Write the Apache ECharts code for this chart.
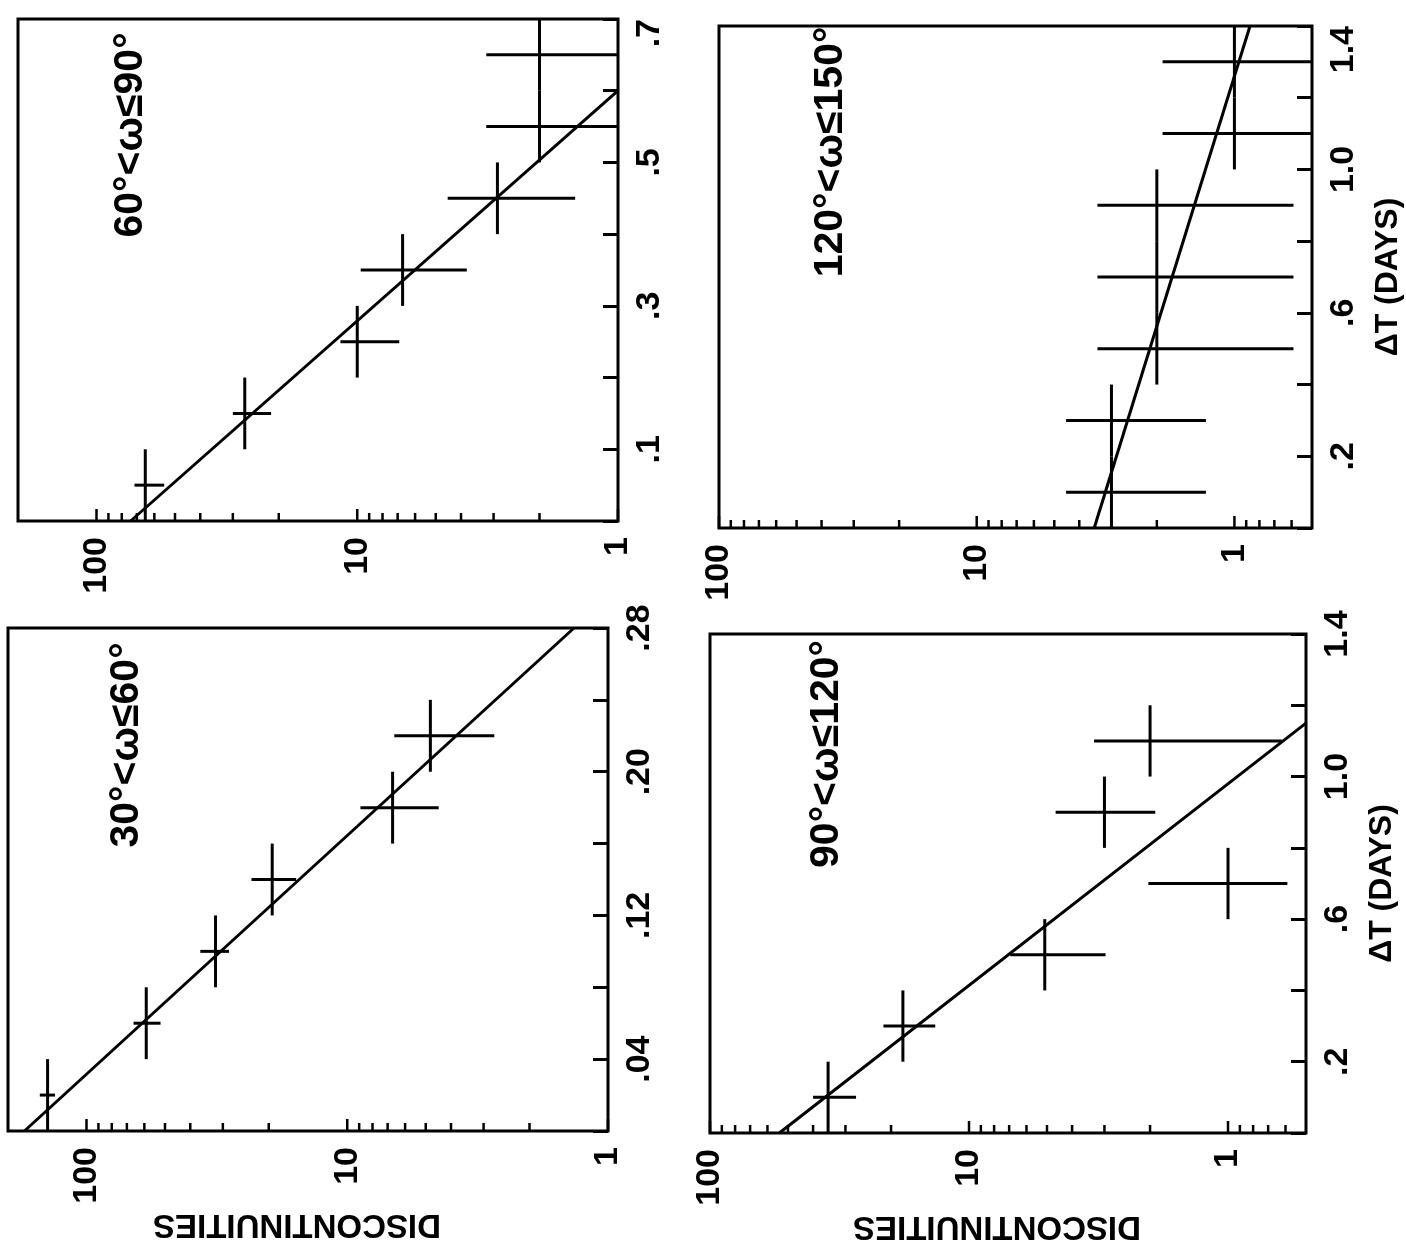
<!DOCTYPE html>
<html>
<head>
<meta charset="utf-8">
<title>Discontinuities vs ΔT</title>
<script src="https://cdn.jsdelivr.net/npm/echarts@6.0.0/dist/echarts.min.js"></script>
<style>
html,body{margin:0;padding:0;background:#fff;}
#chart{width:1406px;height:1251px;}
</style>
</head>
<body>
<div id="chart"></div>
<script>
// ---------------- data ----------------
// 60° < ω ≤ 90°
const dt6090    = [0.05, 0.15, 0.25, 0.35, 0.45, 0.55, 0.65];
const binLo6090 = [0.0, 0.1, 0.2, 0.3, 0.4, 0.5, 0.6];
const binHi6090 = [0.1, 0.2, 0.3, 0.4, 0.5, 0.6, 0.7];
const n6090     = [65, 27, 10, 6.7, 2.9, 2.0, 2.0];
const nLo6090   = [55, 21.4, 6.9, 3.8, 1.46, 1.0, 1.0];
const nHi6090   = [71.5, 30, 11.6, 9.7, 4.5, 3.2, 3.2];
const fit6090   = [[74, 0], [1.0, 0.6]];          // [discontinuities, ΔT]

// 120° < ω ≤ 150°
const dt120150    = [0.1, 0.3, 0.5, 0.7, 0.9, 1.1, 1.3];
const binLo120150 = [0.0, 0.2, 0.4, 0.6, 0.8, 1.0, 1.2];
const binHi120150 = [0.2, 0.4, 0.6, 0.8, 1.0, 1.2, 1.4];
const n120150     = [3, 3, 2, 2, 2, 1, 1];
const nLo120150   = [1.29, 1.29, 0.59, 0.59, 0.59, 0.48, 0.48];
const nHi120150   = [4.5, 4.5, 3.4, 3.4, 3.4, 1.9, 1.9];
const fit120150   = [[3.5, 0], [0.87, 1.4]];

// 30° < ω ≤ 60°
const dt3060    = [0.02, 0.06, 0.10, 0.14, 0.18, 0.22];
const binLo3060 = [0.0, 0.04, 0.08, 0.12, 0.16, 0.20];
const binHi3060 = [0.04, 0.08, 0.12, 0.16, 0.20, 0.24];
const n3060     = [141, 59, 32, 19.4, 6.7, 4.8];
const nLo3060   = [132, 52, 28.4, 15.7, 4.46, 2.73];
const nHi3060   = [151, 66, 36.6, 23.3, 8.9, 6.6];
const fit3060   = [[173, 0], [1.35, 0.28]];

// 90° < ω ≤ 120°
const dt90120    = [0.1, 0.3, 0.5, 0.7, 0.9, 1.1];
const binLo90120 = [0.0, 0.2, 0.4, 0.6, 0.8, 1.0];
const binHi90120 = [0.2, 0.4, 0.6, 0.8, 1.0, 1.2];
const n90120     = [35, 18, 5.1, 1.0, 3.0, 2.0];
const nLo90120   = [27.3, 13.5, 2.97, 0.59, 1.91, 0.62];
const nHi90120   = [40, 21.4, 6.93, 2.03, 4.63, 3.29];
const fit90120   = [[54, 0], [0.5, 1.15]];

// tick values and labels
const logLabelVals   = [1, 10, 100];
const logLabelText   = ['1', '10', '100'];
const logTicksLeft   = [1, 2, 3, 4, 5, 6, 7, 8, 9, 10, 20, 30, 40, 50, 60, 70, 80, 90, 100];
const logTicksRight  = [0.6, 0.7, 0.8, 0.9, 1, 2, 3, 4, 5, 6, 7, 8, 9, 10, 20, 30, 40, 50, 60, 70, 80, 90, 100];
const dtLabelVals6090  = [0.1, 0.3, 0.5, 0.7];
const dtLabelText6090  = ['.1', '.3', '.5', '.7'];
const dtLabelVals3060  = [0.04, 0.12, 0.20, 0.28];
const dtLabelText3060  = ['.04', '.12', '.20', '.28'];
const dtLabelValsWide  = [0.2, 0.6, 1.0, 1.4];
const dtLabelTextWide  = ['.2', '.6', '1.0', '1.4'];

const panelTitles = ['60°<ω≤90°', '120°<ω≤150°', '30°<ω≤60°', '90°<ω≤120°'];
const xAxisTitle = 'DISCONTINUITIES';
const yAxisTitle = 'ΔT (DAYS)';

// ---------------- layout / styling ----------------
const FONT = "'Liberation Sans', Arial, sans-serif";
const INK = '#000';

function rows(dt, n, lo, hi, b0, b1) {
  return dt.map((t, i) => [n[i], t, lo[i], hi[i], b0[i], b1[i]]);
}
function pick(vals, text) {
  return function (v) {
    for (let i = 0; i < vals.length; i++) {
      if (Math.abs(vals[i] - v) < 1e-6 * Math.max(1, Math.abs(vals[i]))) return text[i];
    }
    return '';
  };
}

const panels = [
  { rect: { left: 18,  top: 19,  width: 600, height: 502 }, xMin: 1,   xMax: 200, yMax: 0.7,  yInt: 0.1,
    crosses: rows(dt6090, n6090, nLo6090, nHi6090, binLo6090, binHi6090), fit: fit6090,
    ticks: logTicksLeft, dtFmt: pick(dtLabelVals6090, dtLabelText6090), xName: '', yName: '',
    alignTop: 'right', title: panelTitles[0], tPos: [131, 135] },
  { rect: { left: 719, top: 26,  width: 593, height: 502 }, xMin: 0.5, xMax: 100, yMax: 1.4,  yInt: 0.2,
    crosses: rows(dt120150, n120150, nLo120150, nHi120150, binLo120150, binHi120150), fit: fit120150,
    ticks: logTicksRight, dtFmt: pick(dtLabelValsWide, dtLabelTextWide), xName: '', yName: yAxisTitle,
    alignTop: 'right', title: panelTitles[1], tPos: [831, 152] },
  { rect: { left: 8,   top: 628, width: 600, height: 503 }, xMin: 1,   xMax: 200, yMax: 0.28, yInt: 0.04,
    crosses: rows(dt3060, n3060, nLo3060, nHi3060, binLo3060, binHi3060), fit: fit3060,
    ticks: logTicksLeft, dtFmt: pick(dtLabelVals3060, dtLabelText3060), xName: xAxisTitle, yName: '',
    alignTop: null, title: panelTitles[2], tPos: [127, 745] },
  { rect: { left: 710, top: 634, width: 596, height: 499 }, xMin: 0.5, xMax: 100, yMax: 1.4,  yInt: 0.2,
    crosses: rows(dt90120, n90120, nLo90120, nHi90120, binLo90120, binHi90120), fit: fit90120,
    ticks: logTicksRight, dtFmt: pick(dtLabelValsWide, dtLabelTextWide), xName: xAxisTitle, yName: yAxisTitle,
    alignTop: null, title: panelTitles[3], tPos: [827, 754] }
];

const logFmt = pick(logLabelVals, logLabelText);
const lineStyle = { stroke: INK, lineWidth: 3, lineCap: 'butt' };

function renderCross(params, api) {
  const n = api.value(0), t = api.value(1), lo = api.value(2), hi = api.value(3), b0 = api.value(4), b1 = api.value(5);
  const c = api.coord([n, t]);
  const xl = api.coord([lo, t])[0], xh = api.coord([hi, t])[0];
  const y0 = api.coord([n, b0])[1], y1 = api.coord([n, b1])[1];
  return {
    type: 'group',
    children: [
      { type: 'line', shape: { x1: xl, y1: c[1], x2: xh, y2: c[1] }, style: lineStyle },
      { type: 'line', shape: { x1: c[0], y1: y0, x2: c[0], y2: y1 }, style: lineStyle }
    ]
  };
}
function renderTick(params, api) {
  const v = api.value(0);
  const p = api.coord([v, api.value(1)]);
  const major = logLabelVals.indexOf(v) >= 0;
  const len = major ? 12 : 8;
  return { type: 'line', shape: { x1: p[0], y1: p[1], x2: p[0], y2: p[1] - len }, style: { stroke: INK, lineWidth: 2.5 } };
}

const labelText = { color: INK, fontSize: 34, fontFamily: FONT, fontWeight: 'bold' };

const option = {
  animation: false,
  backgroundColor: '#fff',
  grid: panels.map(p => Object.assign({}, p.rect, {
    show: true, borderColor: INK, borderWidth: 3, backgroundColor: 'transparent',
    containLabel: false, outerBoundsMode: 'none'
  })),
  xAxis: panels.map((p, i) => ({
    type: 'log', logBase: 10, gridIndex: i, min: p.xMin, max: p.xMax, inverse: true, position: 'bottom',
    axisLine: { show: false }, axisTick: { show: false }, splitLine: { show: false },
    axisLabel: Object.assign({ rotate: 90, margin: 16, showMinLabel: true, showMaxLabel: true, formatter: logFmt }, labelText),
    name: p.xName, nameLocation: 'middle', nameRotate: 180, nameGap: 62,
    nameTextStyle: { color: INK, fontSize: 33, fontFamily: FONT, fontWeight: 'bold', padding: [0, 0, 0, 22] }
  })),
  yAxis: panels.map((p, i) => ({
    type: 'value', gridIndex: i, min: 0, max: p.yMax, interval: p.yInt, position: 'right',
    axisLine: { show: false },
    axisTick: { show: true, inside: true, length: 15, lineStyle: { color: INK, width: 3 } },
    splitLine: { show: false },
    axisLabel: Object.assign({ rotate: 90, margin: 15, showMinLabel: true, showMaxLabel: true,
                               alignMaxLabel: p.alignTop, formatter: p.dtFmt }, labelText),
    name: p.yName, nameLocation: 'middle', nameRotate: 90, nameGap: 60,
    nameTextStyle: { color: INK, fontSize: 32, fontFamily: FONT, fontWeight: 'bold' }
  })),
  series: [].concat(...panels.map((p, i) => [
    { type: 'custom', xAxisIndex: i, yAxisIndex: i, renderItem: renderTick, clip: false, silent: true,
      encode: { x: 0, y: 1 }, data: p.ticks.map(v => [v, 0]) },
    { type: 'custom', xAxisIndex: i, yAxisIndex: i, renderItem: renderCross, clip: true, silent: true,
      encode: { x: 0, y: 1 }, data: p.crosses },
    { type: 'line', xAxisIndex: i, yAxisIndex: i, data: p.fit, symbol: 'none', clip: true, silent: true,
      lineStyle: { color: INK, width: 3 } }
  ])),
  graphic: panels.map(p => ({
    type: 'text', x: p.tPos[0], y: p.tPos[1], rotation: Math.PI / 2, silent: true,
    style: { text: p.title, fill: INK, fontSize: 41, fontFamily: FONT, fontWeight: 'bold',
             align: 'center', verticalAlign: 'middle', textAlign: 'center', textVerticalAlign: 'middle' }
  }))
};

const chart = echarts.init(document.getElementById('chart'), null, { renderer: 'canvas' });
chart.setOption(option);
</script>
</body>
</html>
